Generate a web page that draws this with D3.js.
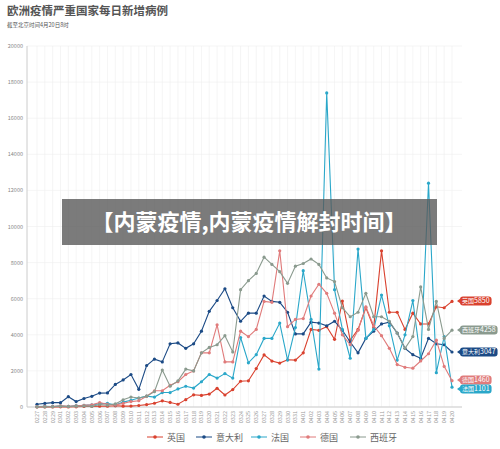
<!DOCTYPE html>
<html><head><meta charset="utf-8">
<script src="https://cdn.jsdelivr.net/npm/d3@7/dist/d3.min.js"></script>
<style>body{margin:0;background:#fff}svg{font-family:"Noto Sans CJK SC","Noto Sans",sans-serif}</style>
</head><body><svg id="c" width="500" height="449"></svg>
<script>
const dates = ["0227","0228","0229","0301","0302","0303","0304","0305","0306","0307","0308","0309","0310","0311","0312","0313","0314","0315","0316","0317","0318","0319","0320","0321","0322","0323","0324","0325","0326","0327","0328","0329","0330","0331","0401","0402","0403","0404","0405","0406","0407","0408","0409","0410","0411","0412","0413","0414","0415","0416","0417","0418","0419","0420"];
const uk = [3,2,5,12,4,11,34,30,48,43,67,46,50,83,134,208,342,251,152,407,676,643,714,1035,665,967,1427,1452,2129,2885,2546,2433,2619,2600,3000,4300,4250,4450,3750,5870,3700,4300,5500,4400,8650,5250,5250,4300,5200,4600,4600,5550,5500,5850];
const italy = [150,200,240,240,570,300,470,590,770,780,1250,1500,1800,980,2300,2650,2500,3500,3550,3250,3500,4200,5300,5900,6550,5500,4750,5200,5200,6150,5850,5800,5250,4050,4050,4700,4650,4500,4750,4250,3600,3000,3800,4200,4600,4700,4100,3250,2900,2700,3800,3500,3450,3047];
const france = [20,40,30,60,30,80,90,120,180,200,110,270,370,500,600,550,800,800,1000,1150,1050,1400,1800,1600,1850,1600,3850,2450,2900,3800,3800,4650,2600,4400,7550,4850,2100,17400,6500,4300,2700,8750,3800,4300,6200,4500,2600,4000,5900,2600,12400,1900,3900,1101];
const germany = [20,30,25,60,40,60,90,120,250,150,120,200,300,350,600,900,900,1200,1400,1800,2000,3000,3000,4550,2500,2500,4200,3900,4300,5850,5800,8650,4450,4850,4900,6150,6800,6300,5200,4000,3450,4250,5550,4500,3950,3250,2350,2200,2150,2550,2950,3700,2250,1460];
const spain = [10,9,13,39,30,45,57,37,141,100,173,400,550,500,600,850,2050,1150,1450,2100,2000,3000,3300,3450,3950,3050,6500,7000,7400,8300,7900,7500,6850,7800,7950,8200,7900,7150,6950,5500,5000,5250,6300,5000,5000,4750,4100,3250,3900,6650,4300,5850,3800,4258];
const seriesNames = ["英国","意大利","法国","德国","西班牙"];
const colors = ["#d9412e","#1b4a85","#2aa7c9","#e07b7b","#8a9a8e"];
const yTicks = [0,2000,4000,6000,8000,10000,12000,14000,16000,18000,20000];
const series = [uk,italy,france,germany,spain];

const svg = d3.select("#c");
const x = d3.scalePoint().domain(dates).range([37,452]);
const y = d3.scaleLinear().domain([0,20000]).range([407,46]);

svg.append("text").attr("x",7).attr("y",15).attr("font-size",11.5).attr("font-weight","bold").attr("fill","#555").text("欧洲疫情严重国家每日新增病例");
svg.append("text").attr("x",7).attr("y",27).attr("font-size",5.5).attr("fill","#555").text("截至北京时间4月20日8时");

svg.append("g").selectAll("line").data(dates).join("line")
 .attr("x1",d=>x(d)).attr("x2",d=>x(d)).attr("y1",46).attr("y2",407).attr("stroke","#eee").attr("stroke-width",0.6);
svg.append("g").selectAll("line").data(yTicks).join("line")
 .attr("x1",27).attr("x2",462).attr("y1",d=>y(d)).attr("y2",d=>y(d)).attr("stroke","#eee").attr("stroke-width",0.6);
svg.append("line").attr("x1",27).attr("x2",27).attr("y1",46).attr("y2",407).attr("stroke","#ccc");
svg.append("line").attr("x1",27).attr("x2",462).attr("y1",407).attr("y2",407).attr("stroke","#ccc");
svg.append("g").selectAll("text").data(yTicks).join("text")
 .attr("x",23).attr("y",d=>y(d)+2).attr("text-anchor","end").attr("font-size",5.5).attr("fill","#888").text(d=>d);
svg.append("g").selectAll("text").data(dates).join("text")
 .attr("transform",d=>`translate(${x(d)+2},411) rotate(-90)`).attr("text-anchor","end").attr("font-size",5.5).attr("fill","#999").text(d=>d);

const line = d3.line().x((d,i)=>x(dates[i])).y(d=>y(d));
series.forEach((s,k)=>{
  const g = svg.append("g");
  g.append("path").datum(s).attr("d",line).attr("fill","none").attr("stroke",colors[k]).attr("stroke-width",1.1);
  g.selectAll("circle").data(s).join("circle").attr("cx",(d,i)=>x(dates[i])).attr("cy",d=>y(d)).attr("r",1.6).attr("fill",colors[k]);
});

const endY = {0:301,4:330,1:352,3:380,2:389};
[0,4,1,3,2].forEach(k=>{
  const v = series[k][series[k].length-1];
  const yy = endY[k];
  const r = svg.append("rect").attr("x",460).attr("y",yy-4.5).attr("height",9).attr("rx",3).attr("fill",colors[k]);
  svg.append("path").attr("d",`M457,${yy} L460.5,${yy-2.5} L460.5,${yy+2.5}Z`).attr("fill",colors[k]);
  const t = svg.append("text").attr("x",462).attr("y",yy+2.4).attr("font-size",7).attr("fill","#fff");
  t.append("tspan").attr("font-size",6).text(seriesNames[k]);
  t.append("tspan").text(v);
  r.attr("width",t.node().getComputedTextLength()+4);
});

const lx = [147,196,251,300,350];
seriesNames.forEach((n,k)=>{
  svg.append("line").attr("x1",lx[k]).attr("x2",lx[k]+16).attr("y1",437).attr("y2",437).attr("stroke",colors[k]);
  svg.append("circle").attr("cx",lx[k]+8).attr("cy",437).attr("r",1.8).attr("fill",colors[k]);
  svg.append("text").attr("x",lx[k]+20).attr("y",440.5).attr("font-size",9).attr("fill","#666").text(n);
});

svg.append("rect").attr("x",62).attr("y",199).attr("width",375).attr("height",46).attr("fill","rgba(90,90,90,0.8)");
svg.append("text").attr("x",249).attr("y",230).attr("text-anchor","middle").attr("font-size",22).attr("font-weight","bold").attr("fill","#fff").text("【内蒙疫情,内蒙疫情解封时间】");
</script></body></html>
